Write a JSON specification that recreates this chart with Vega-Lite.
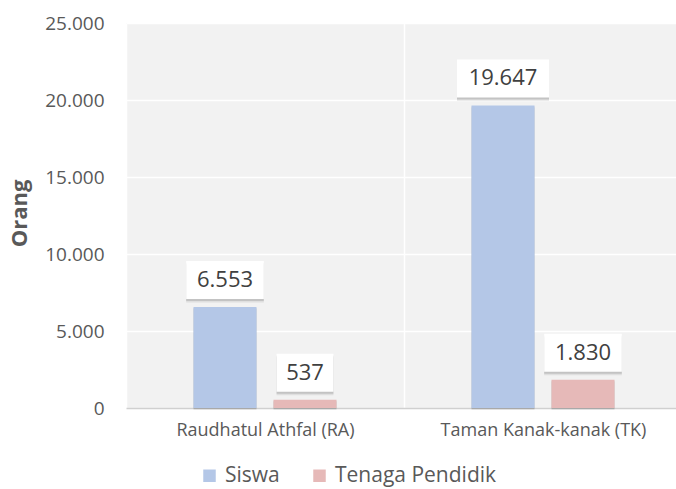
{
  "$schema": "https://vega.github.io/schema/vega-lite/v6.json",
  "width": 556,
  "height": 385,
  "autosize": {"type": "none"},
  "padding": {"left": 126, "top": 23, "right": 0, "bottom": 81},
  "background": "white",
  "config": {
    "font": "Open Sans",
    "view": {"stroke": null, "fill": "#f2f2f2"},
    "locale": {"number": {"decimal": ",", "thousands": ".", "grouping": [3], "currency": ["Rp", ""]}}
  },
  "data": {
    "values": [
      {"jenis": "Raudhatul Athfal (RA)", "series": "Siswa", "value": 6553},
      {"jenis": "Raudhatul Athfal (RA)", "series": "Tenaga Pendidik", "value": 537},
      {"jenis": "Taman Kanak-kanak (TK)", "series": "Siswa", "value": 19647},
      {"jenis": "Taman Kanak-kanak (TK)", "series": "Tenaga Pendidik", "value": 1830}
    ]
  },
  "transform": [
    {"calculate": "length(toString(datum.value))", "as": "digits"},
    {"calculate": "14.3 * datum.digits + 6.5 * floor((datum.digits - 1) / 3) + 14", "as": "boxw"}
  ],
  "encoding": {
    "x": {
      "field": "jenis",
      "type": "nominal",
      "sort": null,
      "scale": {"paddingInner": 0, "paddingOuter": 0},
      "axis": {
        "title": null,
        "labelAngle": 0,
        "labelFontSize": 18,
        "labelLimit": 0,
        "labelColor": "#595959",
        "labelPadding": 13,
        "ticks": false,
        "tickBand": "extent",
        "grid": true,
        "gridColor": "white",
        "gridWidth": 1.5,
        "domainColor": "#d0d0d0",
        "domainWidth": 1.5
      }
    },
    "xOffset": {
      "field": "series",
      "type": "nominal",
      "sort": ["Siswa", "Tenaga Pendidik"],
      "scale": {"paddingInner": 0.2125, "paddingOuter": 0.84375}
    },
    "y": {
      "field": "value",
      "type": "quantitative",
      "scale": {"domain": [0, 25000], "nice": false},
      "axis": {
        "title": "Orang",
        "titleFontSize": 22,
        "titleFontWeight": "bold",
        "titleColor": "#595959",
        "titleX": -107,
        "titleY": 190,
        "titleBaseline": "middle",
        "values": [0, 5000, 10000, 15000, 20000, 25000],
        "format": ",d",
        "labelFontSize": 19,
        "labelColor": "#595959",
        "labelPadding": 22,
        "ticks": false,
        "domain": false,
        "grid": true,
        "gridColor": "white",
        "gridWidth": 1.5
      }
    }
  },
  "layer": [
    {
      "mark": {"type": "bar", "color": "black", "opacity": 0.07, "xOffset": 4, "yOffset": 2},
      "encoding": {}
    },
    {
      "mark": {"type": "bar", "color": "black", "opacity": 0.12, "xOffset": 2, "yOffset": 1},
      "encoding": {}
    },
    {
      "mark": {"type": "bar"},
      "encoding": {
        "color": {
          "field": "series",
          "type": "nominal",
          "scale": {"domain": ["Siswa", "Tenaga Pendidik"], "range": ["#b4c7e7", "#e6b9b8"]},
          "legend": {
            "title": null,
            "orient": "none",
            "direction": "horizontal",
            "legendX": 73,
            "legendY": 442,
            "padding": 0,
            "symbolType": "square",
            "symbolSize": 156,
            "symbolStrokeWidth": 0,
            "labelFontSize": 21,
            "labelLimit": 0,
            "labelColor": "#595959",
            "labelOffset": 5,
            "columnPadding": 29
          }
        }
      }
    },
    {
      "mark": {"type": "tick", "color": "black", "opacity": 0.08, "thickness": 38, "xOffset": 3.5, "yOffset": -23.5},
      "encoding": {"size": {"field": "boxw", "type": "quantitative", "scale": null}}
    },
    {
      "mark": {"type": "tick", "color": "black", "opacity": 0.12, "thickness": 38, "xOffset": 2, "yOffset": -25},
      "encoding": {"size": {"field": "boxw", "type": "quantitative", "scale": null}}
    },
    {
      "mark": {"type": "tick", "color": "white", "opacity": 1, "thickness": 38, "yOffset": -27},
      "encoding": {"size": {"field": "boxw", "type": "quantitative", "scale": null}}
    },
    {
      "mark": {"type": "text", "fontSize": 22, "color": "#404040", "baseline": "middle", "align": "center", "yOffset": -27},
      "encoding": {"text": {"field": "value", "type": "quantitative", "format": ","}}
    }
  ]
}
